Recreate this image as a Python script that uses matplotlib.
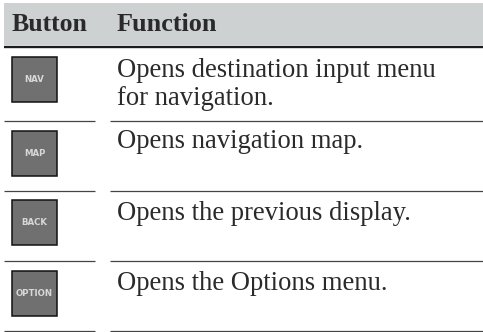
import matplotlib
matplotlib.use("Agg")
import matplotlib.pyplot as plt
from matplotlib.patches import Rectangle

# === DATA ===
headers = ["Button", "Function"]
button_labels = ["NAV", "MAP", "BACK", "OPTION"]
functions = [
    ["Opens destination input menu", "for navigation."],
    ["Opens navigation map."],
    ["Opens the previous display."],
    ["Opens the Options menu."],
]

# === LAYOUT (pixels) ===
row_lines = [121, 191, 261, 331]
button_tops = [57, 131, 200, 270.5]
baselines = [77, 148, 220, 290]
line_step = 28

fig = plt.figure(figsize=(4.83, 3.32), dpi=100)
ax = fig.add_axes([0, 0, 1, 1])
ax.set_xlim(0, 483)
ax.set_ylim(332, 0)
ax.axis("off")

serif = "Liberation Serif"
text_col = "#2a2a2a"

# header band
ax.add_patch(Rectangle((4, 3), 479, 42, facecolor="#cdd1d1", edgecolor="none"))
ax.plot([4, 483], [46.5, 46.5], color="#1c1c1c", linewidth=1.7, solid_capstyle="butt")
ax.text(12, 31, headers[0], family=serif, fontsize=18.5, fontweight="bold", color=text_col, va="baseline")
ax.text(117, 31, headers[1], family=serif, fontsize=18.8, fontweight="bold", color=text_col, va="baseline")

for i in range(len(button_labels)):
    y = row_lines[i]
    ax.plot([4, 95], [y, y], color="#444444", linewidth=0.9, solid_capstyle="butt")
    ax.plot([110, 483], [y, y], color="#444444", linewidth=0.9, solid_capstyle="butt")

    top = button_tops[i]
    ax.add_patch(Rectangle((11.7, top), 45.3, 45, facecolor="#707070", edgecolor="#111111", linewidth=1.1))
    ax.text(34.5, top + 22.5, button_labels[i], family="DejaVu Sans", fontsize=6.2, fontweight="bold",
            color="#d8d8d8", ha="center", va="center")

    for j, line in enumerate(functions[i]):
        ax.text(117, baselines[i] + j * line_step, line, family=serif, fontsize=19.2, color=text_col, va="baseline")

plt.savefig("out.png", dpi=100)
plt.close()
